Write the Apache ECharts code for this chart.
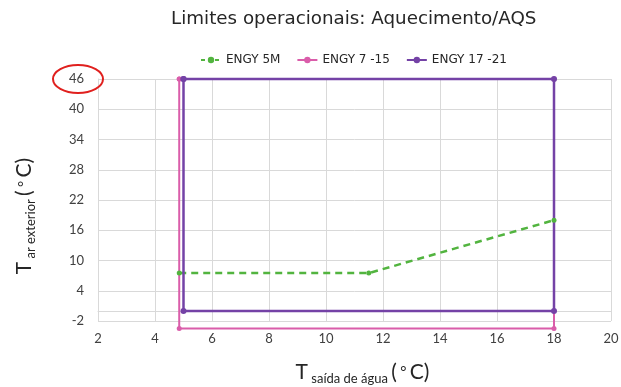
<!DOCTYPE html>
<html>
<head>
<meta charset="utf-8">
<script src="https://cdn.jsdelivr.net/npm/echarts@6/dist/echarts.min.js"></script>
<style>
  html, body { margin: 0; padding: 0; background: #fff; }
  #chart { width: 621px; height: 387px; }
</style>
</head>
<body>
<div id="chart"></div>
<script>
// series names (legend order)
const seriesNames = ['ENGY 5M', 'ENGY 7 -15', 'ENGY 17 -21']

// ENGY 5M envelope (T saída de água, T ar exterior)
const engy5mX = [4.85, 11.5, 18]
const engy5mY = [7.5, 7.5, 18]

// ENGY 7 -15 envelope
const engy715X = [4.85, 4.85, 18, 18, 4.85]
const engy715Y = [46, -3.5, -3.5, 46, 46]

// ENGY 17 -21 envelope
const engy1721X = [5, 18, 18, 5, 5]
const engy1721Y = [46, 46, 0, 0, 46]

// axes
const xMin = 2, xMax = 20, xStep = 2
const yMin = -2, yMax = 46, yStep = 6

const colors = ['#52b43f', '#da5daa', '#7442a6']

function pairs(xs, ys) {
  return xs.map((x, i) => [x, ys[i]])
}

const chart = echarts.init(document.getElementById('chart'))

const gridColor = '#d9d9d9'
const labelColor = '#404040'
const nameRich = {
  big: { fontFamily: 'Lato', fontSize: 21, color: '#262626', lineHeight: 26, verticalAlign: 'middle' },
  deg: { fontFamily: 'Lato', fontSize: 15, color: '#262626', lineHeight: 26, verticalAlign: 'middle' },
  sub: { fontFamily: 'Lato', fontSize: 13, color: '#262626', lineHeight: 12, verticalAlign: 'bottom' }
}

chart.setOption({
  backgroundColor: '#fff',
  animation: false,
  title: {
    text: 'Limites operacionais: Aquecimento/AQS',
    left: 171,
    top: 10,
    padding: 0,
    textStyle: {
      fontFamily: 'DejaVu Sans',
      fontSize: 18.3,
      fontWeight: 'normal',
      color: '#262626'
    }
  },
  legend: {
    data: [
      { name: seriesNames[0], lineStyle: { type: [4, 3] } },
      { name: seriesNames[1] },
      { name: seriesNames[2] }
    ],
    left: 200,
    top: 54,
    padding: 0,
    itemWidth: 20,
    itemHeight: 8,
    itemGap: 16,
    textStyle: {
      fontFamily: 'DejaVu Sans',
      fontSize: 12,
      color: '#262626'
    }
  },
  grid: {
    left: 98,
    right: 10,
    top: 79,
    bottom: 66,
    containLabel: false,
    outerBoundsMode: 'none'
  },
  xAxis: {
    type: 'value',
    min: xMin,
    max: xMax,
    interval: xStep,
    axisLine: { show: true, lineStyle: { color: gridColor, width: 1 } },
    axisTick: { show: false },
    splitLine: { show: true, lineStyle: { color: gridColor, width: 1 } },
    axisLabel: {
      margin: 11,
      fontFamily: 'Lato',
      fontSize: 13,
      color: labelColor
    },
    name: '{big|T} {sub|saída de água} {big|(} {deg|°} {big|C)}',
    nameLocation: 'middle',
    nameGap: 38,
    nameTextStyle: {
      padding: [0, 0, 0, 16],
      rich: nameRich
    }
  },
  yAxis: {
    type: 'value',
    min: yMin,
    max: yMax,
    interval: yStep,
    axisLine: { show: true, lineStyle: { color: gridColor, width: 1 } },
    axisTick: { show: false },
    splitLine: { show: true, lineStyle: { color: gridColor, width: 1 } },
    axisLabel: {
      margin: 14,
      fontFamily: 'Lato',
      fontSize: 13,
      color: labelColor
    },
    name: '{big|T} {sub|ar exterior} {big|(} {deg|°} {big|C)}',
    nameLocation: 'middle',
    nameGap: 61,
    nameTextStyle: {
      padding: [0, 32, 0, 0],
      rich: nameRich
    }
  },
  // red highlight round the top tick label
  graphic: [
    {
      type: 'ellipse',
      shape: { cx: 78, cy: 79, rx: 25, ry: 14 },
      style: { fill: 'none', stroke: '#e0201e', lineWidth: 2 },
      z: 100
    }
  ],
  series: [
    {
      name: seriesNames[0],
      type: 'line',
      data: pairs(engy5mX, engy5mY),
      symbol: 'circle',
      symbolSize: 5,
      clip: false,
      color: colors[0],
      lineStyle: { width: 2.5, type: [7, 5], color: colors[0] },
      itemStyle: { color: colors[0] }
    },
    {
      name: seriesNames[1],
      type: 'line',
      data: pairs(engy715X, engy715Y),
      symbol: 'circle',
      symbolSize: 5,
      clip: false,
      color: colors[1],
      lineStyle: { width: 2, color: colors[1] },
      itemStyle: { color: colors[1] }
    },
    {
      name: seriesNames[2],
      type: 'line',
      data: pairs(engy1721X, engy1721Y),
      symbol: 'circle',
      symbolSize: 6,
      clip: false,
      color: colors[2],
      lineStyle: { width: 2.5, color: colors[2] },
      itemStyle: { color: colors[2] }
    }
  ]
})
</script>
</body>
</html>
